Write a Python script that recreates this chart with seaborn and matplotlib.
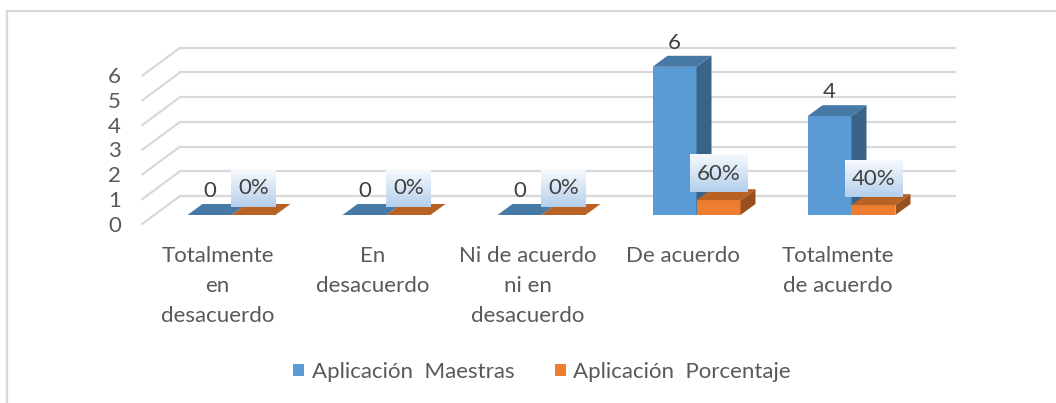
import numpy as np
import pandas as pd
import matplotlib
matplotlib.use("Agg")
import matplotlib.pyplot as plt
import seaborn as sns
from matplotlib.patches import Polygon, Patch
from matplotlib.lines import Line2D

# ---------------- data ----------------
categories = ["Totalmente\nen\ndesacuerdo", "En\ndesacuerdo",
              "Ni de acuerdo\nni en\ndesacuerdo", "De acuerdo",
              "Totalmente\nde acuerdo"]
maestras = [0, 0, 0, 6, 4]
porcentaje = [0.0, 0.0, 0.0, 0.6, 0.4]
maestras_labels = ["0", "0", "0", "6", "4"]
porcentaje_labels = ["0%", "0%", "0%", "60%", "40%"]
series = ["Aplicación  Maestras", "Aplicación  Porcentaje"]
y_ticks = [0, 1, 2, 3, 4, 5, 6]

colors = ["#5b9bd5", "#ed7d31"]
GRID = "#d9d9d9"
TXT = "#595959"
LBL = "#404040"
FS = 16

sns.set_theme(style="white")
plt.rcParams["font.family"] = ["Lato", "DejaVu Sans"]

W, H = 1056, 403
fig = plt.figure(figsize=(W / 100, H / 100), dpi=100)
PPY = 24.7
ax = fig.add_axes([154 / W, (H - 215) / H, 775 / W, 7 * PPY / H])

df = pd.DataFrame({
    "cat": categories * 2,
    "series": [series[0]] * len(categories) + [series[1]] * len(categories),
    "val": maestras + porcentaje,
})
sns.barplot(data=df, x="cat", y="val", hue="series", order=categories,
            hue_order=series, palette=colors, width=88 / 155, gap=0,
            saturation=1, errorbar=None, legend=False, ax=ax, linewidth=0)
ax.set_xlim(-0.5, len(categories) - 0.5)
ax.set_ylim(0, 7)
ax.axis("off")

# pixel -> data conversions
fig.canvas.draw()
p0 = ax.transData.transform((0, 0))
p1 = ax.transData.transform((1, 1))
ppx = p1[0] - p0[0]
ppy = p1[1] - p0[1]


def off(dxp, dyp_up):
    return dxp / ppx, dyp_up / ppy


# back wall and side wall grid
bx, by = off(26, 19)
fx, fy = off(-12, -9)
xl, xr = -0.5, len(categories) - 0.5
for v in y_ticks:
    ax.add_line(Line2D([xl + bx, xr + bx], [v + by, v + by], color=GRID,
                       lw=1.6, zorder=1, clip_on=False))
    ax.add_line(Line2D([xl + fx, xl + bx], [v + fy, v + by], color=GRID,
                       lw=1.6, zorder=1, clip_on=False))
    tx, ty = off(-33, -10.5)
    ax.text(xl + tx, v + ty, str(v), ha="right", va="center", fontsize=FS,
            color=TXT)

# 3D faces for bars
ddx, ddy = off(15, 11)
n = len(categories)
patches = list(ax.patches)
for k, p in enumerate(patches):
    s = k // n
    base = np.array(matplotlib.colors.to_rgb(colors[s]))
    top_c = base * 0.78
    side_c = base * 0.64
    x0, w, h = p.get_x(), p.get_width(), p.get_height()
    z = 3 + s
    p.set_zorder(z)
    p.set_facecolor(colors[s])
    top = Polygon([(x0, h), (x0 + w, h), (x0 + w + ddx, h + ddy),
                   (x0 + ddx, h + ddy)], closed=True, facecolor=top_c,
                  edgecolor="none", zorder=z)
    side = Polygon([(x0 + w, 0), (x0 + w + ddx, ddy), (x0 + w + ddx, h + ddy),
                    (x0 + w, h)], closed=True, facecolor=side_c,
                   edgecolor="none", zorder=z)
    ax.add_patch(top)
    ax.add_patch(side)

# data labels
blue_bars = patches[:n]
orange_bars = patches[n:]
for p, lab in zip(blue_bars, maestras_labels):
    cx = p.get_x() + p.get_width() / 2
    ax.text(cx, p.get_height() + 24 / ppy, lab, ha="center", va="center",
            fontsize=FS, color=LBL, zorder=10)

otexts = []
for p, lab in zip(orange_bars, porcentaje_labels):
    cx = p.get_x() + p.get_width() / 2
    t = ax.text(cx, p.get_height() + 26.5 / ppy, lab, ha="center",
                va="center", fontsize=FS, color=LBL, zorder=11)
    otexts.append(t)

fig.canvas.draw()
renderer = fig.canvas.get_renderer()
grad = np.linspace(0, 1, 64)[:, None]
c_top = np.array(matplotlib.colors.to_rgb("#f6f9fd"))
c_bot = np.array(matplotlib.colors.to_rgb("#b4cfec"))
img = (c_top[None, None, :] * (1 - grad[:, :, None]) +
       c_bot[None, None, :] * grad[:, :, None])
inv = ax.transData.inverted()
for t in otexts:
    bb = t.get_window_extent(renderer)
    cxp, cyp = (bb.x0 + bb.x1) / 2, (bb.y0 + bb.y1) / 2
    bw = bb.width + 14
    bh = 37
    (dx0, dy0) = inv.transform((cxp - bw / 2, cyp - bh / 2))
    (dx1, dy1) = inv.transform((cxp + bw / 2, cyp + bh / 2))
    ax.imshow(img, extent=[dx0, dx1, dy0, dy1], aspect="auto", zorder=10,
              interpolation="bilinear", origin="upper", clip_on=False)
ax.set_xlim(-0.5, len(categories) - 0.5)
ax.set_ylim(0, 7)

# category labels
for i, lab in enumerate(categories):
    ax.text(i - 14 / ppx, -30.5 / ppy, lab, ha="center", va="top",
            fontsize=FS, color=TXT, linespacing=1.65, clip_on=False)

# legend
handles = [Patch(facecolor=c, edgecolor="none") for c in colors]
leg = fig.legend(handles, series, loc="center", bbox_to_anchor=(542 / W, 1 - 372 / H),
                 ncol=2, frameon=False, fontsize=FS, handlelength=0.5,
                 handleheight=0.5, handletextpad=0.35, columnspacing=1.8)
for tt in leg.get_texts():
    tt.set_color(TXT)

# chart border
fig.add_artist(Line2D([7 / W, 1], [1 - 11 / H, 1 - 11 / H], transform=fig.transFigure,
                      color=GRID, lw=1.6))
fig.add_artist(Line2D([7 / W, 7 / W], [1 - 11 / H, 0], transform=fig.transFigure,
                      color=GRID, lw=1.6))

fig.savefig("out.png", dpi=100, facecolor="white")
